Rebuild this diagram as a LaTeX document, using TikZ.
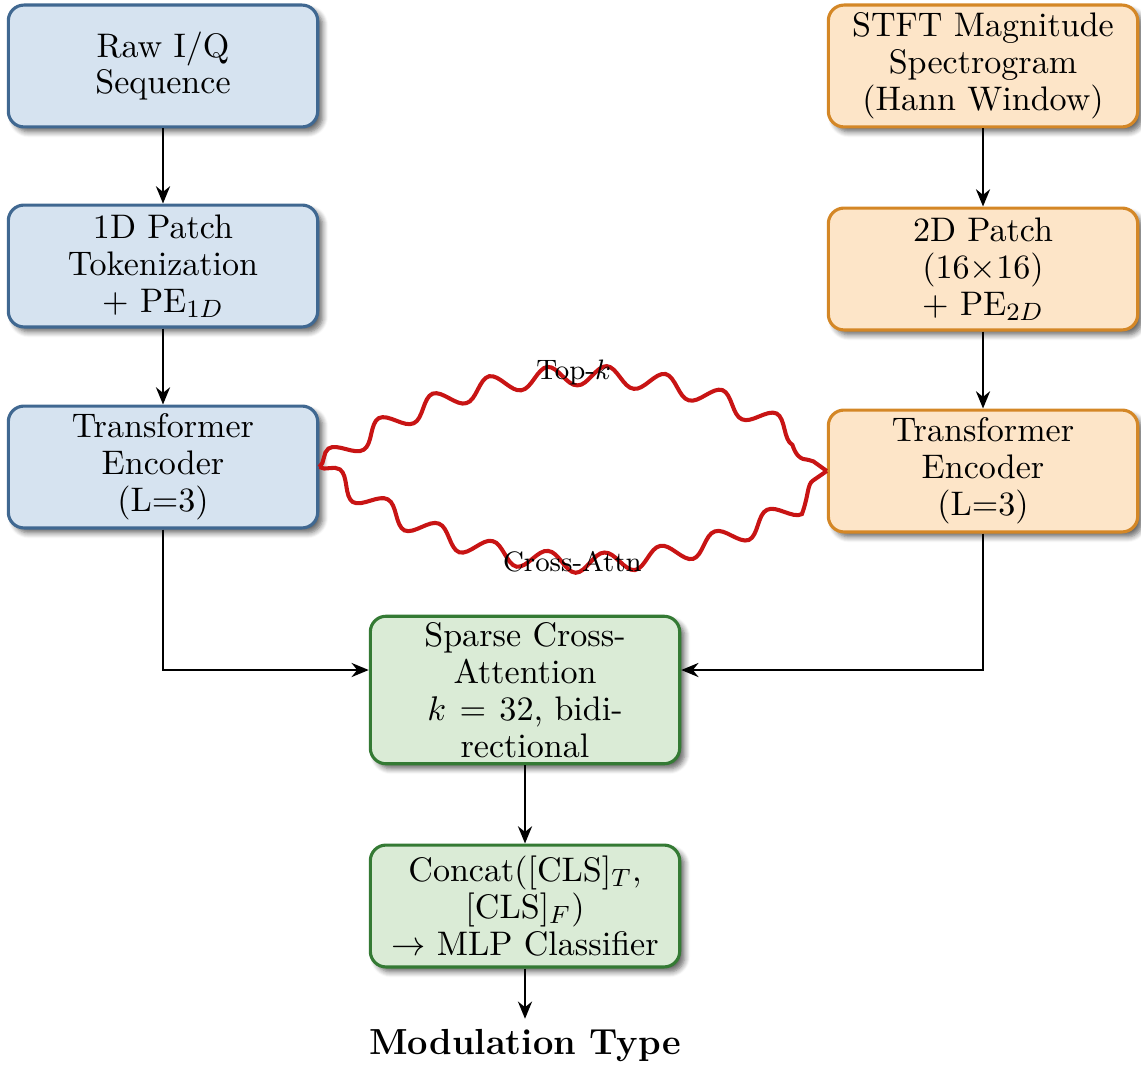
\documentclass[tikz,border=0pt]{standalone}
\usetikzlibrary{arrows.meta,decorations.pathmorphing,shadows.blur,calc}

\definecolor{bluefill}{RGB}{214,227,240}
\definecolor{blueline}{RGB}{64,104,145}
\definecolor{orangefill}{RGB}{253,229,200}
\definecolor{orangeline}{RGB}{212,135,38}
\definecolor{greenfill}{RGB}{218,235,214}
\definecolor{greenline}{RGB}{52,122,52}
\definecolor{wavered}{RGB}{200,20,20}

\tikzset{
  block/.style={rounded corners=5pt, line width=1pt, minimum width=99pt,
    minimum height=39pt, text width=95pt, align=flush center, inner xsep=2pt,
    inner ysep=2pt, font=\fontsize{10.9}{11.8}\selectfont,
    blur shadow={shadow xshift=1.6pt, shadow yshift=-1.6pt,
      shadow blur steps=6, shadow opacity=60}},
  timebox/.style={block, draw=blueline, fill=bluefill},
  freqbox/.style={block, draw=orangeline, fill=orangefill},
  fusebox/.style={block, draw=greenline, fill=greenfill},
  flow/.style={-{Stealth[length=5.5pt,width=4.5pt]}, line width=0.8pt, black},
  wave/.style={draw=wavered, line width=1.3pt,
    decorate, decoration={snake, segment length=18.5pt, amplitude=3.2pt}},
  wavelabel/.style={font=\small, inner sep=0pt}
}

\begin{document}
\begin{tikzpicture}[x=0.32pt, y=-0.32pt]
  \useasboundingbox (0,0) rectangle (1141,1068);

  % time-domain branch
  \node[timebox] (raw) at (163,66) {Raw I/Q\\Sequence};
  \node[timebox] (tok) at (163,266) {1D Patch\\Tokenization\\+ PE$_{1D}$};
  \node[timebox] (encT) at (163,467) {Transformer\\Encoder\\(L=3)};

  % frequency-domain branch
  \node[freqbox] (stft) at (983,66) {STFT Magnitude\\Spectrogram\\(Hann Window)};
  \node[freqbox] (patch) at (983,269) {2D Patch\\(16$\times$16)\\+ PE$_{2D}$};
  \node[freqbox] (encF) at (983,471) {Transformer\\Encoder\\(L=3)};

  % fusion and classification
  \node[fusebox] (sparse) at (525,690)
    {Sparse Cross-\\Attention\\$k\mkern2mu=\mkern2mu32$, bidi-\\rectional};
  \node[fusebox] (concat) at (525,906)
    {Concat({[}CLS{]}$_T$,\\{[}CLS{]}$_F$)\\$\rightarrow$ MLP Classifier};
  \node[font=\fontsize{11.6}{14}\selectfont\bfseries] (out) at (525,1046) {Modulation Type};

  % vertical flow
  \draw[flow] (raw) -- (tok);
  \draw[flow] (tok) -- (encT);
  \draw[flow] (stft) -- (patch);
  \draw[flow] (patch) -- (encF);
  \draw[flow] (sparse) -- (concat);
  \draw[flow] (concat) -- (out);

  % encoders into the fusion block
  \coordinate (inL) at ($(sparse.west)+(0,-20)$);
  \coordinate (inR) at ($(sparse.east)+(0,-20)$);
  \draw[flow] (encT.south) |- (inL);
  \draw[flow] (encF.south) |- (inR);

  % wavy cross-attention links
  \draw[wave] (encT.east) to[bend left=35]
    node[midway, above, wavelabel, yshift=-1pt] {Top-$k$} (encF.west);
  \draw[wave] (encT.east) to[bend right=35]
    node[midway, below, wavelabel, yshift=1.5pt] {Cross-Attn} (encF.west);
\end{tikzpicture}
\end{document}
